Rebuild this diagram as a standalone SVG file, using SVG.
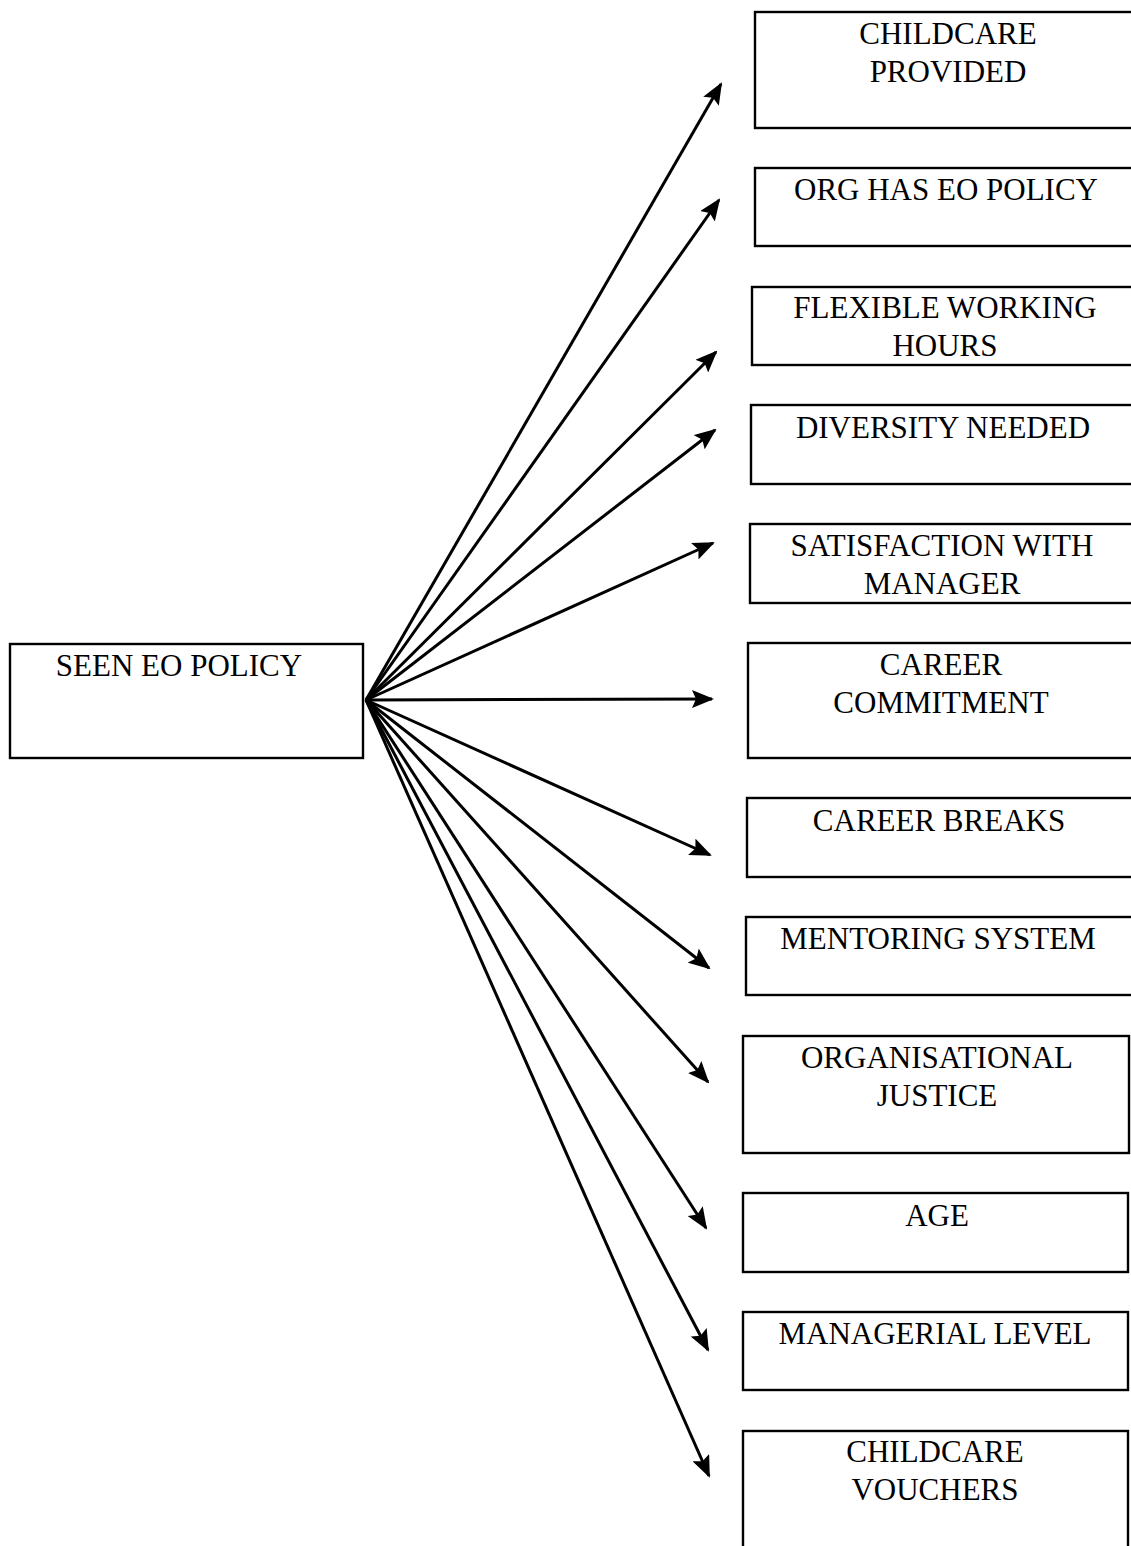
<svg xmlns="http://www.w3.org/2000/svg" width="1131" height="1546" viewBox="0 0 1131 1546">
  <style>
    .box { fill: #ffffff; stroke: #000000; stroke-width: 2.4; }
    .lbl { font-family: "Liberation Serif", "Times New Roman", serif; font-size: 31px; fill: #000000; text-anchor: middle; }
    .edge { stroke: #000000; stroke-width: 3; fill: none; marker-end: url(#head); }
  </style>
  <defs>
    <marker id="head" viewBox="0 0 22 18" refX="20" refY="9" markerWidth="22" markerHeight="18" markerUnits="userSpaceOnUse" orient="auto">
      <path d="M0,0 L22,9 L0,18 L4,9 z" fill="#000000"/>
    </marker>
  </defs>
  <rect width="1131" height="1546" fill="#ffffff"/>

  <g id="connectors">
    <line class="edge" x1="366" y1="700" x2="721" y2="84"/>
    <line class="edge" x1="366" y1="700" x2="719" y2="200"/>
    <line class="edge" x1="366" y1="700" x2="716" y2="352"/>
    <line class="edge" x1="366" y1="700" x2="715" y2="430"/>
    <line class="edge" x1="366" y1="700" x2="713" y2="543"/>
    <line class="edge" x1="366" y1="700" x2="712" y2="699"/>
    <line class="edge" x1="366" y1="700" x2="710" y2="855"/>
    <line class="edge" x1="366" y1="700" x2="709" y2="968"/>
    <line class="edge" x1="366" y1="700" x2="708" y2="1082"/>
    <line class="edge" x1="366" y1="700" x2="706" y2="1228"/>
    <line class="edge" x1="366" y1="700" x2="708" y2="1350"/>
    <line class="edge" x1="366" y1="700" x2="709" y2="1476"/>
  </g>

  <g id="seen-eo-policy">
    <rect class="box" x="10" y="644" width="353" height="114"/>
    <text class="lbl" x="179" y="676">SEEN EO POLICY</text>
  </g>

  <g id="childcare-provided">
    <rect class="box" x="755" y="12" width="378" height="116"/>
    <text class="lbl" x="948" y="44">CHILDCARE</text>
    <text class="lbl" x="948" y="82">PROVIDED</text>
  </g>

  <g id="org-has-eo-policy">
    <rect class="box" x="755" y="168" width="378" height="78"/>
    <text class="lbl" x="946" y="200">ORG HAS EO POLICY</text>
  </g>

  <g id="flexible-working-hours">
    <rect class="box" x="752" y="287" width="381" height="78"/>
    <text class="lbl" x="945" y="318">FLEXIBLE WORKING</text>
    <text class="lbl" x="945" y="356">HOURS</text>
  </g>

  <g id="diversity-needed">
    <rect class="box" x="751" y="405" width="382" height="79"/>
    <text class="lbl" x="943" y="438">DIVERSITY NEEDED</text>
  </g>

  <g id="satisfaction-with-manager">
    <rect class="box" x="750" y="524" width="383" height="79"/>
    <text class="lbl" x="942" y="556">SATISFACTION WITH</text>
    <text class="lbl" x="942" y="594">MANAGER</text>
  </g>

  <g id="career-commitment">
    <rect class="box" x="748" y="643" width="385" height="115"/>
    <text class="lbl" x="941" y="675">CAREER</text>
    <text class="lbl" x="941" y="713">COMMITMENT</text>
  </g>

  <g id="career-breaks">
    <rect class="box" x="747" y="798" width="386" height="79"/>
    <text class="lbl" x="939" y="831">CAREER BREAKS</text>
  </g>

  <g id="mentoring-system">
    <rect class="box" x="746" y="917" width="387" height="78"/>
    <text class="lbl" x="938" y="949">MENTORING SYSTEM</text>
  </g>

  <g id="organisational-justice">
    <rect class="box" x="743" y="1036" width="386" height="117"/>
    <text class="lbl" x="937" y="1068">ORGANISATIONAL</text>
    <text class="lbl" x="937" y="1106">JUSTICE</text>
  </g>

  <g id="age">
    <rect class="box" x="743" y="1193" width="385" height="79"/>
    <text class="lbl" x="937" y="1226">AGE</text>
  </g>

  <g id="managerial-level">
    <rect class="box" x="743" y="1312" width="385" height="78"/>
    <text class="lbl" x="935" y="1344">MANAGERIAL LEVEL</text>
  </g>

  <g id="childcare-vouchers">
    <rect class="box" x="743" y="1431" width="385" height="130"/>
    <text class="lbl" x="935" y="1462">CHILDCARE</text>
    <text class="lbl" x="935" y="1500">VOUCHERS</text>
  </g>
</svg>
